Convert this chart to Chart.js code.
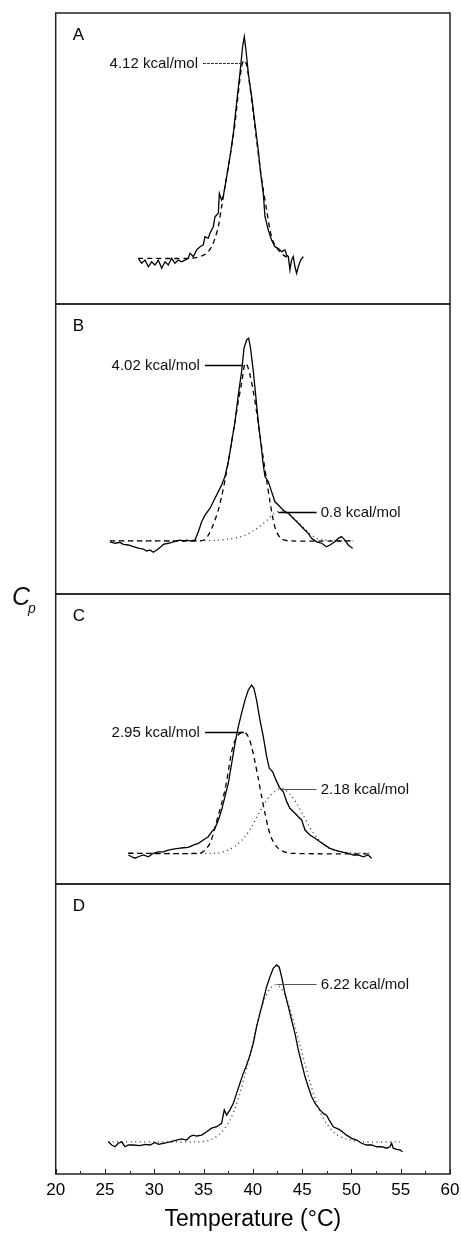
<!DOCTYPE html>
<html>
<head>
<meta charset="utf-8">
<script src="https://cdn.jsdelivr.net/npm/chart.js@4.4.1/dist/chart.umd.min.js"></script>
<style>
	html, body { margin: 0; padding: 0; background: #fff; }
	#wrap { position: relative; width: 461px; height: 1243px; overflow: hidden; font-family: "Liberation Sans", Arial, sans-serif; }
	.panel { position: absolute; left: 0; width: 461px; }
	.cp { position: absolute; font-style: italic; color: #111; line-height: 1; }
</style>
</head>
<body>
<div id="wrap">
	<div class="panel" style="top:11px;height:295px"><canvas id="chartA" width="461" height="295"></canvas></div>
	<div class="panel" style="top:302px;height:294px"><canvas id="chartB" width="461" height="294"></canvas></div>
	<div class="panel" style="top:592px;height:294px"><canvas id="chartC" width="461" height="294"></canvas></div>
	<div class="panel" style="top:882px;height:361px"><canvas id="chartD" width="461" height="361"></canvas></div>
	<span class="cp" style="left:12px;top:584px;font-size:25px">C</span>
	<span class="cp" style="left:28px;top:601px;font-size:14px">p</span>
</div>
<script>
// x = temperature (°C), y = Cp in arbitrary units (each panel 0..100)
const tempA = [28.38,28.72,29.06,29.40,29.73,30.07,30.41,30.75,31.09,31.42,31.76,32.10,32.44,32.78,33.11,33.45,33.62,33.96,34.30,34.64,34.97,35.14,35.48,35.65,35.99,36.16,36.50,36.60,36.83,37.00,37.34,37.68,38.02,38.35,38.69,38.96,39.13,39.30,39.54,39.88,40.21,40.55,40.79,41.06,41.23,41.57,41.90,42.24,42.58,42.92,43.26,43.43,43.60,43.76,43.93,44.10,44.27,44.44,44.61,44.85,45.12];
const cpA = [15.7,14.0,15.1,12.8,14.5,13.4,15.1,12.3,14.5,13.4,15.7,14.0,15.1,14.5,15.1,15.7,17.4,16.3,18.6,19.7,20.3,23.1,22.6,24.3,26.6,30.0,31.2,38.0,35.7,36.9,43.7,50.6,58.6,69.0,79.3,88.4,91.9,87.3,79.3,71.2,62.1,52.9,44.9,38.0,30.0,25.4,22.0,19.7,19.1,18.0,18.6,16.8,16.3,11.7,15.1,16.3,12.8,10.5,12.8,15.1,16.3];
const fitTempA = [28.38,33.62,34.64,35.31,35.82,36.16,36.50,36.83,37.17,37.68,38.19,38.52,38.86,39.10,39.37,39.71,40.05,40.38,40.72,41.06,41.40,41.74,42.07,42.58,43.09,43.76];
const fitA = [15.7,15.7,16.3,17.4,19.7,22.6,26.6,33.4,40.3,50.6,62.1,72.4,81.5,83.8,82.1,74.6,65.5,56.3,47.2,39.2,32.3,25.4,21.4,18.6,16.8,15.7];

const tempB = [25.51,26.02,26.52,26.86,27.37,27.87,28.38,28.89,29.23,29.57,29.90,30.24,30.58,30.92,31.42,31.93,32.27,32.61,32.95,33.28,33.62,34.13,34.47,34.81,35.14,35.65,36.16,36.50,36.83,37.17,37.51,37.85,38.19,38.52,38.86,39.10,39.37,39.57,39.77,40.05,40.32,40.55,40.79,41.06,41.23,41.57,41.90,42.24,42.58,42.92,43.26,43.60,44.10,44.61,45.12,45.62,45.96,46.47,46.98,47.48,47.82,48.33,48.67,49.00,49.34,49.68,50.12];
const cpB = [18.0,17.5,17.8,17.1,16.9,16.3,15.8,15.5,14.8,15.2,14.4,15.2,16.0,17.1,17.5,18.0,18.3,18.6,18.3,18.6,18.3,18.6,21.5,24.9,27.2,29.5,33.0,35.3,37.6,40.5,45.6,52.5,59.4,68.6,76.7,84.7,87.6,88.2,84.7,76.7,67.5,59.4,52.5,44.5,40.5,38.7,35.3,31.8,30.7,29.5,28.4,27.8,26.1,24.4,22.6,20.9,19.2,18.0,17.5,16.3,16.9,18.0,19.2,19.8,18.6,16.9,15.8];
const fitTempB1 = [25.51,30.24,34.64,35.14,35.48,35.82,36.16,36.50,36.83,37.17,37.51,37.85,38.19,38.52,38.86,39.20,39.44,39.71,40.05,40.38,40.72,41.06,41.40,41.74,42.07,42.41,42.92,43.76,50.19];
const fitB1 = [18.3,18.3,18.3,18.8,20.3,22.6,25.5,29.0,33.6,39.2,45.6,52.5,59.4,66.3,72.7,79.5,78.7,75.6,69.8,62.8,54.8,46.8,39.2,31.8,25.5,21.4,19.0,18.3,18.3];
const fitTempB2 = [25.51,34.30,36.33,37.68,38.69,39.37,40.05,40.72,41.40,41.90,42.41,42.92,43.43,43.93,44.44,45.12,45.79,46.47,47.15,47.82,50.19];
const fitB2 = [18.3,18.4,18.5,19.0,19.7,20.5,21.8,23.4,25.3,27.0,28.2,28.6,28.0,26.8,25.3,23.0,20.8,19.2,18.6,18.5,18.3];

const tempC = [27.37,27.71,28.04,28.38,28.89,29.40,29.90,30.41,30.92,31.42,31.93,32.44,32.95,33.45,33.96,34.47,34.97,35.48,35.82,36.16,36.50,36.83,37.17,37.51,37.85,38.19,38.52,38.86,39.20,39.54,39.88,40.11,40.38,40.72,41.06,41.40,41.67,42.01,42.34,42.75,43.09,43.43,43.76,44.27,44.61,44.95,45.29,45.79,46.30,46.81,47.31,47.82,48.33,49.00,49.68,50.19,50.69,51.20,51.71,52.05];
const cpC = [10.0,9.4,8.9,9.4,10.0,9.4,10.6,11.1,11.1,11.7,12.0,12.3,12.5,12.6,13.4,14.0,15.2,16.3,18.0,19.2,22.1,25.5,30.1,34.7,41.6,48.5,54.2,58.9,63.4,66.9,68.6,67.5,63.4,56.6,50.8,43.9,39.9,38.7,35.9,33.0,31.8,28.4,26.1,24.4,23.2,22.1,18.6,16.9,15.8,14.6,13.4,12.3,11.7,11.1,10.6,10.0,10.0,9.4,10.0,8.9];
const fitTempC1 = [27.37,34.64,35.14,35.65,35.99,36.26,36.56,36.83,37.17,37.48,37.75,38.08,38.52,39.10,39.54,39.88,40.21,40.55,40.89,41.23,41.57,41.90,42.41,42.92,43.76,51.88];
const fitC1 = [10.6,10.6,11.7,14.0,17.4,20.9,24.5,27.8,32.4,38.2,43.9,48.5,51.4,52.5,50.8,47.3,42.2,36.4,30.1,24.4,19.2,15.8,12.9,11.5,10.6,10.4];
const fitTempC2 = [27.37,36.33,37.34,38.35,39.20,39.88,40.55,41.23,41.90,42.58,43.09,43.76,44.44,45.12,45.79,46.47,47.15,48.16,49.51,51.88];
const fitC2 = [10.6,10.6,11.5,13.4,16.3,19.8,24.0,28.0,31.0,32.6,32.8,31.0,27.8,23.6,19.5,16.1,13.7,11.7,10.8,10.6];

const tempD = [25.34,25.68,26.02,26.35,26.69,27.03,27.37,27.87,28.55,29.06,29.57,30.07,30.41,30.92,31.59,32.27,32.78,33.28,33.62,33.96,34.30,34.81,35.31,35.82,36.33,36.83,37.10,37.34,37.68,38.02,38.35,38.69,39.03,39.37,39.71,40.05,40.38,40.72,41.06,41.40,41.74,42.07,42.41,42.68,42.92,43.26,43.60,43.93,44.27,44.61,44.95,45.29,45.62,45.96,46.30,46.81,47.15,47.48,47.75,48.16,48.84,49.51,50.02,50.53,51.03,51.54,52.05,52.55,53.06,53.57,53.91,54.08,54.24,54.58,54.92,55.19];
const cpD = [11.1,10.0,9.4,10.6,11.1,9.4,10.0,10.0,9.8,10.2,10.0,10.9,10.2,10.6,11.1,11.7,12.1,11.7,12.9,13.4,13.1,13.4,14.6,15.8,16.3,17.5,22.1,20.3,22.1,24.4,27.8,31.3,34.7,37.6,41.0,45.1,50.8,55.4,60.0,64.6,68.0,70.9,72.1,71.3,68.0,62.3,57.7,53.1,48.5,42.8,38.2,33.6,30.1,26.7,24.4,22.1,20.9,20.3,18.6,16.3,15.2,13.4,12.3,11.7,10.6,10.0,10.0,9.4,9.4,8.9,9.4,10.6,8.9,8.5,8.3,7.7];
const fitTempD = [25.34,34.64,35.65,36.50,37.17,37.68,38.19,38.69,39.20,39.71,40.21,40.72,41.23,41.74,42.24,42.75,43.26,43.76,44.27,44.78,45.29,45.79,46.30,46.81,47.48,48.33,49.51,51.20,54.92];
const fitD = [11.1,11.1,11.7,13.4,15.8,18.6,22.6,27.8,34.1,41.0,48.5,55.4,60.6,63.9,65.2,64.5,61.7,56.9,50.8,44.5,37.9,31.8,26.1,21.4,17.4,14.0,12.0,11.1,11.1];

const xTicks = [20, 25, 30, 35, 40, 45, 50, 55, 60];
const enthalpyLabels = {
	A: ['4.12 kcal/mol'],
	B: ['4.02 kcal/mol', '0.8 kcal/mol'],
	C: ['2.95 kcal/mol', '2.18 kcal/mol'],
	D: ['6.22 kcal/mol'],
};

const FONT = '"Liberation Sans", Arial, Helvetica, sans-serif';

function pts(xs, ys) {
	return xs.map((x, i) => ({ x: x, y: ys[i] }));
}

function solid(xs, ys) {
	return { data: pts(xs, ys), borderColor: '#000', borderWidth: 1.3, pointRadius: 0, tension: 0 };
}
function dashed(xs, ys) {
	return { data: pts(xs, ys), borderColor: '#000', borderWidth: 1.3, borderDash: [5, 4], pointRadius: 0, tension: 0.3 };
}
function dotted(xs, ys) {
	return { data: pts(xs, ys), borderColor: '#333', borderWidth: 1.3, borderDash: [1, 3.5], pointRadius: 0, tension: 0.3 };
}

// frame, panel letter, inward ticks and the kcal/mol call-outs
const panelDecor = {
	id: 'panelDecor',
	afterDatasetsDraw(chart, args, opts) {
		const ctx = chart.ctx;
		const a = chart.chartArea;
		const x = chart.scales.x;
		const y = chart.scales.y;
		ctx.save();
		ctx.setLineDash([]);
		ctx.strokeStyle = '#222';
		ctx.lineWidth = 1.5;
		ctx.strokeRect(a.left, a.top, a.right - a.left, a.bottom - a.top);

		ctx.fillStyle = '#000';
		ctx.font = '17px ' + FONT;
		ctx.textAlign = 'left';
		ctx.textBaseline = 'middle';
		ctx.fillText(opts.letter, a.left + 17, a.top + 22);

		if (opts.ticks) {
			ctx.lineWidth = 1;
			for (let t = 20; t <= 60; t += 2.5) {
				const px = Math.round(x.getPixelForValue(t)) + 0.5;
				const len = t % 5 === 0 ? 5 : 3;
				ctx.beginPath();
				ctx.moveTo(px, a.bottom);
				ctx.lineTo(px, a.bottom - len);
				ctx.stroke();
			}
		}

		(opts.notes || []).forEach((n) => {
			const tipX = x.getPixelForValue(n.tip[0]);
			const tipY = Math.round(y.getPixelForValue(n.tip[1])) + 0.5;
			const tailX = x.getPixelForValue(n.tail);
			ctx.strokeStyle = n.color;
			ctx.lineWidth = n.width;
			ctx.setLineDash(n.dash || []);
			ctx.beginPath();
			ctx.moveTo(tailX, tipY);
			ctx.lineTo(tipX, tipY);
			ctx.stroke();
			ctx.setLineDash([]);
			ctx.fillStyle = '#111';
			ctx.font = '15px ' + FONT;
			if (tailX < tipX) {
				ctx.textAlign = 'right';
				ctx.fillText(n.text, tailX - 5, tipY);
			} else {
				ctx.textAlign = 'left';
				ctx.fillText(n.text, tailX + 4, tipY);
			}
		});
		ctx.restore();
	},
};

function makePanel(id, letter, datasets, notes, bottom) {
	const xScale = {
		type: 'linear',
		min: 20,
		max: 60,
		display: !!bottom,
		grid: { display: false, drawTicks: false },
		border: { display: false },
		afterBuildTicks(scale) {
			scale.ticks = xTicks.map((v) => ({ value: v }));
		},
		ticks: { color: '#000', padding: 6, font: { family: FONT, size: 17 } },
		title: {
			display: !!bottom,
			text: 'Temperature (°C)',
			color: '#000',
			font: { family: FONT, size: 23 },
			padding: { top: 0, bottom: 10 },
		},
	};
	if (bottom) {
		xScale.afterFit = function (scale) {
			scale.height = 69;
			scale.paddingLeft = 0;
			scale.paddingRight = 0;
		};
	}
	return new Chart(document.getElementById(id), {
		type: 'line',
		data: { datasets: datasets },
		options: {
			responsive: false,
			animation: false,
			events: [],
			devicePixelRatio: 1,
			layout: { padding: { left: 55.7, right: 11, top: 2, bottom: bottom ? 0 : 2 } },
			scales: {
				x: xScale,
				y: { type: 'linear', min: 0, max: 100, display: false },
			},
			plugins: {
				legend: { display: false },
				tooltip: { enabled: false },
				panelDecor: { letter: letter, notes: notes, ticks: !!bottom },
			},
		},
		plugins: [panelDecor],
	});
}

makePanel('chartA', 'A',
	[solid(tempA, cpA), dashed(fitTempA, fitA)],
	[{ text: enthalpyLabels.A[0], tip: [39.0, 82.8], tail: 34.94, color: '#333', width: 1, dash: [3, 1] }]);

makePanel('chartB', 'B',
	[solid(tempB, cpB), dashed(fitTempB1, fitB1), dotted(fitTempB2, fitB2)],
	[
		{ text: enthalpyLabels.B[0], tip: [39.03, 79.0], tail: 35.14, color: '#000', width: 1.5 },
		{ text: enthalpyLabels.B[1], tip: [42.58, 28.2], tail: 46.47, color: '#000', width: 1.5 },
	]);

makePanel('chartC', 'C',
	[solid(tempC, cpC), dashed(fitTempC1, fitC1), dotted(fitTempC2, fitC2)],
	[
		{ text: enthalpyLabels.C[0], tip: [39.1, 52.5], tail: 35.14, color: '#000', width: 1.5 },
		{ text: enthalpyLabels.C[1], tip: [42.92, 32.7], tail: 46.47, color: '#555', width: 1 },
	]);

makePanel('chartD', 'D',
	[solid(tempD, cpD), dotted(fitTempD, fitD)],
	[{ text: enthalpyLabels.D[0], tip: [42.41, 65.5], tail: 46.47, color: '#555', width: 1 }],
	true);
</script>
</body>
</html>
